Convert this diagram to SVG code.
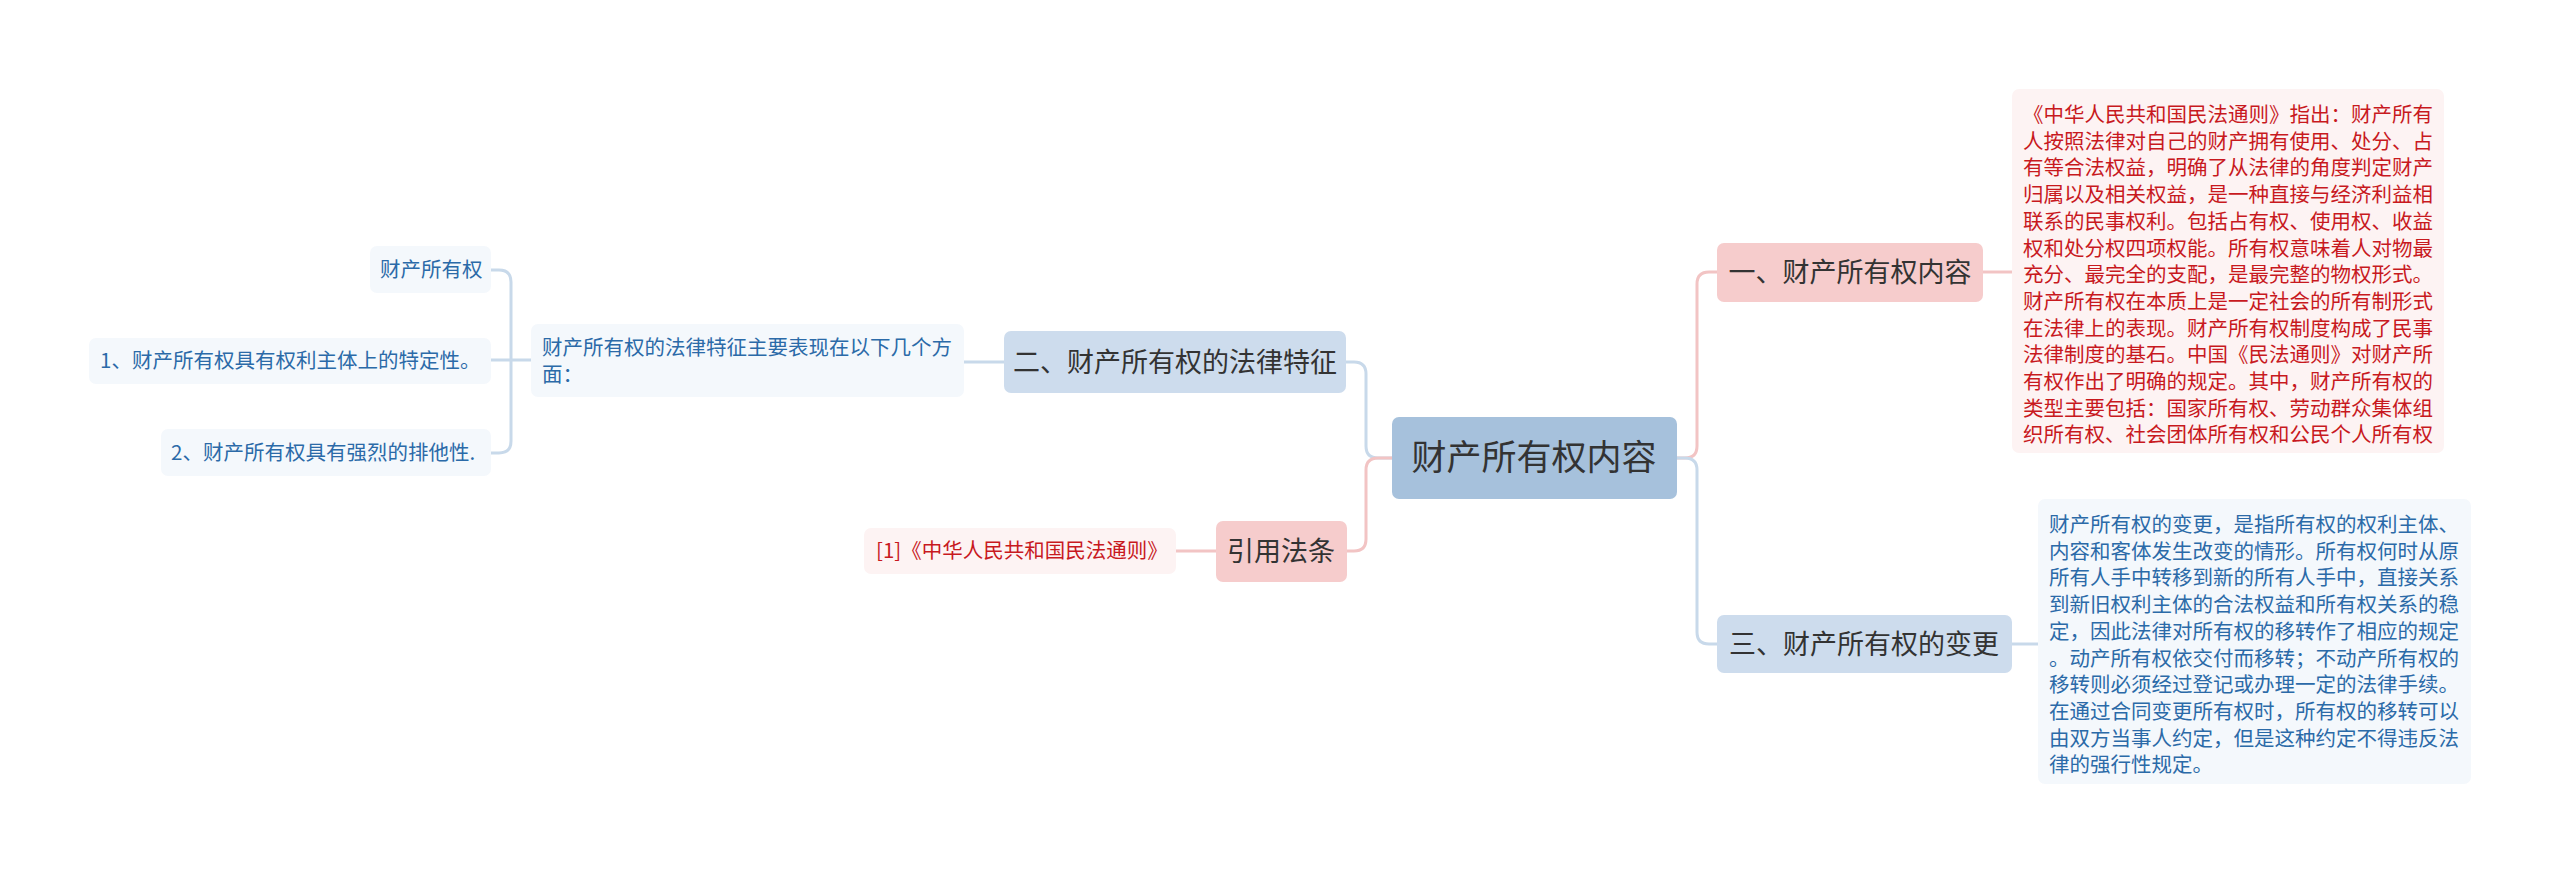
<svg xmlns="http://www.w3.org/2000/svg" width="2560" height="873" viewBox="0 0 2560 873">
<style>
text{font-family:"Noto Sans CJK SC","Liberation Sans",sans-serif}
.d{font-size:20.5px}
.r{fill:#c8191e}
.b{fill:#2b6aa8}
.lb{fill:#f4f8fc}
.lp{fill:#fdf3f3}
.cb{fill:none;stroke:#c8d9ea;stroke-width:3}
.cp{fill:none;stroke:#f2c4c4;stroke-width:3}
.br{font-size:27px;fill:#333}
</style>
<rect width="2560" height="873" fill="#fff"/>
<g id="connectors">
<path class="cb" d="M1392 458 H1378 Q1366 458 1366 446 V374 Q1366 362 1354 362 H1346"/>
<path class="cp" d="M1392 458 H1378 Q1366 458 1366 470 V539 Q1366 551 1354 551 H1347"/>
<path class="cp" d="M1677 458 H1685 Q1697 458 1697 446 V284 Q1697 272 1709 272 H1717"/>
<path class="cb" d="M1677 458 H1685 Q1697 458 1697 470 V632 Q1697 644 1709 644 H1717"/>
<path class="cp" d="M1983 272 H2012"/>
<path class="cb" d="M2012 644 H2038"/>
<path class="cb" d="M1004 362 H964"/>
<path class="cp" d="M1216 551 H1176"/>
<path class="cb" d="M531 360 H491 M491 270 H499 Q511 270 511 282 V441 Q511 453 499 453 H491 M491 360 H511"/>
</g>
<g id="root"><rect x="1392" y="417" width="285" height="82" rx="7" fill="#a6c1dc"/><text x="1534" y="470" font-size="35" fill="#333" text-anchor="middle">财产所有权内容</text></g>
<g id="n1"><rect x="1717" y="243" width="266" height="59" rx="7" fill="#f6cccc"/><text x="1850" y="282" class="br" text-anchor="middle">一、财产所有权内容</text></g>
<g id="n3"><rect x="1717" y="615" width="295" height="58" rx="7" fill="#cddced"/><text x="1864" y="654" class="br" text-anchor="middle">三、财产所有权的变更</text></g>
<g id="n2"><rect x="1004" y="331" width="342" height="62" rx="7" fill="#cddced"/><text x="1175" y="372" class="br" text-anchor="middle">二、财产所有权的法律特征</text></g>
<g id="ref"><rect x="1216" y="521" width="131" height="61" rx="7" fill="#f6cccc"/><text x="1281" y="561" class="br" text-anchor="middle">引用法条</text></g>
<g id="d1"><rect class="lp" x="2012" y="89" width="432" height="364" rx="7"/>
<text class="d r" x="2023" y="122">
<tspan x="2023" dy="0">《中华人民共和国民法通则》指出：财产所有</tspan>
<tspan x="2023" dy="26.7">人按照法律对自己的财产拥有使用、处分、占</tspan>
<tspan x="2023" dy="26.7">有等合法权益，明确了从法律的角度判定财产</tspan>
<tspan x="2023" dy="26.7">归属以及相关权益，是一种直接与经济利益相</tspan>
<tspan x="2023" dy="26.7">联系的民事权利。包括占有权、使用权、收益</tspan>
<tspan x="2023" dy="26.7">权和处分权四项权能。所有权意味着人对物最</tspan>
<tspan x="2023" dy="26.7">充分、最完全的支配，是最完整的物权形式。</tspan>
<tspan x="2023" dy="26.7">财产所有权在本质上是一定社会的所有制形式</tspan>
<tspan x="2023" dy="26.7">在法律上的表现。财产所有权制度构成了民事</tspan>
<tspan x="2023" dy="26.7">法律制度的基石。中国《民法通则》对财产所</tspan>
<tspan x="2023" dy="26.7">有权作出了明确的规定。其中，财产所有权的</tspan>
<tspan x="2023" dy="26.7">类型主要包括：国家所有权、劳动群众集体组</tspan>
<tspan x="2023" dy="26.7">织所有权、社会团体所有权和公民个人所有权</tspan>
</text></g>
<g id="d3"><rect class="lb" x="2038" y="499" width="433" height="285" rx="7"/>
<text class="d b" x="2049" y="532">
<tspan x="2049" dy="0">财产所有权的变更，是指所有权的权利主体、</tspan>
<tspan x="2049" dy="26.7">内容和客体发生改变的情形。所有权何时从原</tspan>
<tspan x="2049" dy="26.7">所有人手中转移到新的所有人手中，直接关系</tspan>
<tspan x="2049" dy="26.7">到新旧权利主体的合法权益和所有权关系的稳</tspan>
<tspan x="2049" dy="26.7">定，因此法律对所有权的移转作了相应的规定</tspan>
<tspan x="2049" dy="26.7">。动产所有权依交付而移转；不动产所有权的</tspan>
<tspan x="2049" dy="26.7">移转则必须经过登记或办理一定的法律手续。</tspan>
<tspan x="2049" dy="26.7">在通过合同变更所有权时，所有权的移转可以</tspan>
<tspan x="2049" dy="26.7">由双方当事人约定，但是这种约定不得违反法</tspan>
<tspan x="2049" dy="26.7">律的强行性规定。</tspan>
</text></g>
<g id="d2"><rect class="lb" x="531" y="324" width="433" height="73" rx="7"/>
<text class="d b" x="542" y="355"><tspan x="542">财产所有权的法律特征主要表现在以下几个方</tspan><tspan x="542" dy="27">面：</tspan></text></g>
<g id="l1"><rect class="lb" x="370" y="246" width="121" height="47" rx="7"/><text class="d b" x="380" y="277">财产所有权</text></g>
<g id="l2"><rect class="lb" x="89" y="338" width="402" height="46" rx="7"/><text class="d b" x="100" y="368">1、财产所有权具有权利主体上的特定性。</text></g>
<g id="l3"><rect class="lb" x="161" y="429" width="330" height="47" rx="7"/><text class="d b" x="171" y="460">2、财产所有权具有强烈的排他性.</text></g>
<g id="cite"><rect class="lp" x="864" y="528" width="312" height="46" rx="7"/><text class="d r" x="876" y="558">[1]《中华人民共和国民法通则》</text></g>
</svg>
